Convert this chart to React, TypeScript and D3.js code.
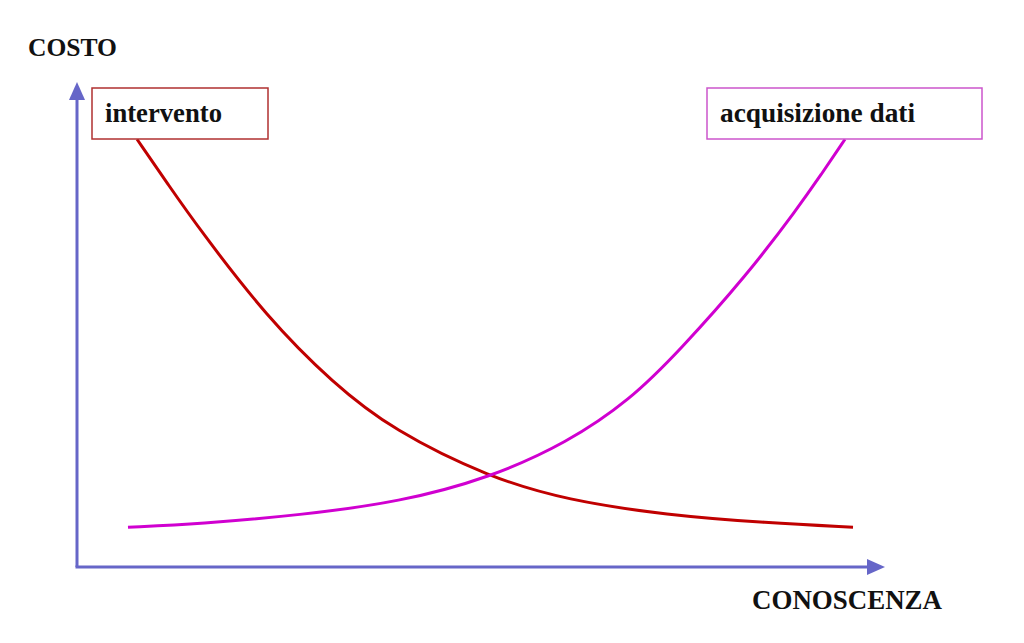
import React from "react";
import * as d3 from "d3";

const interventoX = [7.43, 11.3, 15.22, 23.51, 31.68, 39.11, 51.11, 60.64, 73.02, 85.4, 96.04];
const interventoY = [88.2, 78.8, 69.5, 51.5, 37.9, 28.2, 18.4, 13.8, 10.7, 9.1, 8.2];
const acquisizioneX = [6.31, 15.22, 27.6, 39.98, 51.11, 60.64, 68.44, 74.63, 82.92, 89.11, 92.1, 95.05];
const acquisizioneY = [8.2, 8.9, 10.7, 13.4, 18.4, 25.6, 34.4, 44.7, 60.2, 73.8, 80.9, 88.2];
const seriesNames = ["intervento", "acquisizione dati"];
const axisTitles = ["COSTO", "CONOSCENZA"];

export default function App() {
  const W = 1024, H = 643;
  const x = d3.scaleLinear().domain([0, 100]).range([77, 885]);
  const y = d3.scaleLinear().domain([0, 100]).range([567, 82]);
  const line = d3.line<[number, number]>().x(d => x(d[0])).y(d => y(d[1])).curve(d3.curveBasis);
  const red = interventoX.map((v, i) => [v, interventoY[i]] as [number, number]);
  const mag = acquisizioneX.map((v, i) => [v, acquisizioneY[i]] as [number, number]);
  const axisColor = "#6666c8";
  const font = "'Liberation Serif', 'Times New Roman', serif";
  return (
    <svg width={W} height={H} style={{ position: "absolute", left: 0, top: 0, background: "#fff" }}>
      {/* axes */}
      <path d={`M${x(0)},${y(0)} L${x(0)},${y(100) + 14}`} stroke={axisColor} strokeWidth={3} fill="none" />
      <path d={`M${x(0) - 1.5},${y(0)} L${x(100) - 14},${y(0)}`} stroke={axisColor} strokeWidth={3} fill="none" />
      <path d={`M${x(0)},${y(100)} L${x(0) - 8},${y(100) + 18} L${x(0) + 8},${y(100) + 18} Z`} fill={axisColor} />
      <path d={`M${x(100)},${y(0)} L${x(100) - 18},${y(0) - 8} L${x(100) - 18},${y(0) + 8} Z`} fill={axisColor} />
      {/* curves */}
      <path d={line(red) || ""} stroke="#c00000" strokeWidth={3} fill="none" />
      <path d={line(mag) || ""} stroke="#d000d0" strokeWidth={3} fill="none" />
      {/* labels */}
      <rect x={92} y={88} width={176} height={51} fill="#fff" stroke="#b03030" strokeWidth={1.5} />
      <text x={105} y={122} fontFamily={font} fontWeight="bold" fontSize={27} textLength={117} lengthAdjust="spacingAndGlyphs" fill="#111">{seriesNames[0]}</text>
      <rect x={707} y={88} width={275} height={51} fill="#fff" stroke="#cc55cc" strokeWidth={1.5} />
      <text x={720} y={122} fontFamily={font} fontWeight="bold" fontSize={27} textLength={195} lengthAdjust="spacingAndGlyphs" fill="#111">{seriesNames[1]}</text>
      <text x={28} y={56} fontFamily={font} fontWeight="bold" fontSize={26} textLength={89} lengthAdjust="spacingAndGlyphs" fill="#111">{axisTitles[0]}</text>
      <text x={752} y={609} fontFamily={font} fontWeight="bold" fontSize={27} textLength={190} lengthAdjust="spacingAndGlyphs" fill="#111">{axisTitles[1]}</text>
    </svg>
  );
}
